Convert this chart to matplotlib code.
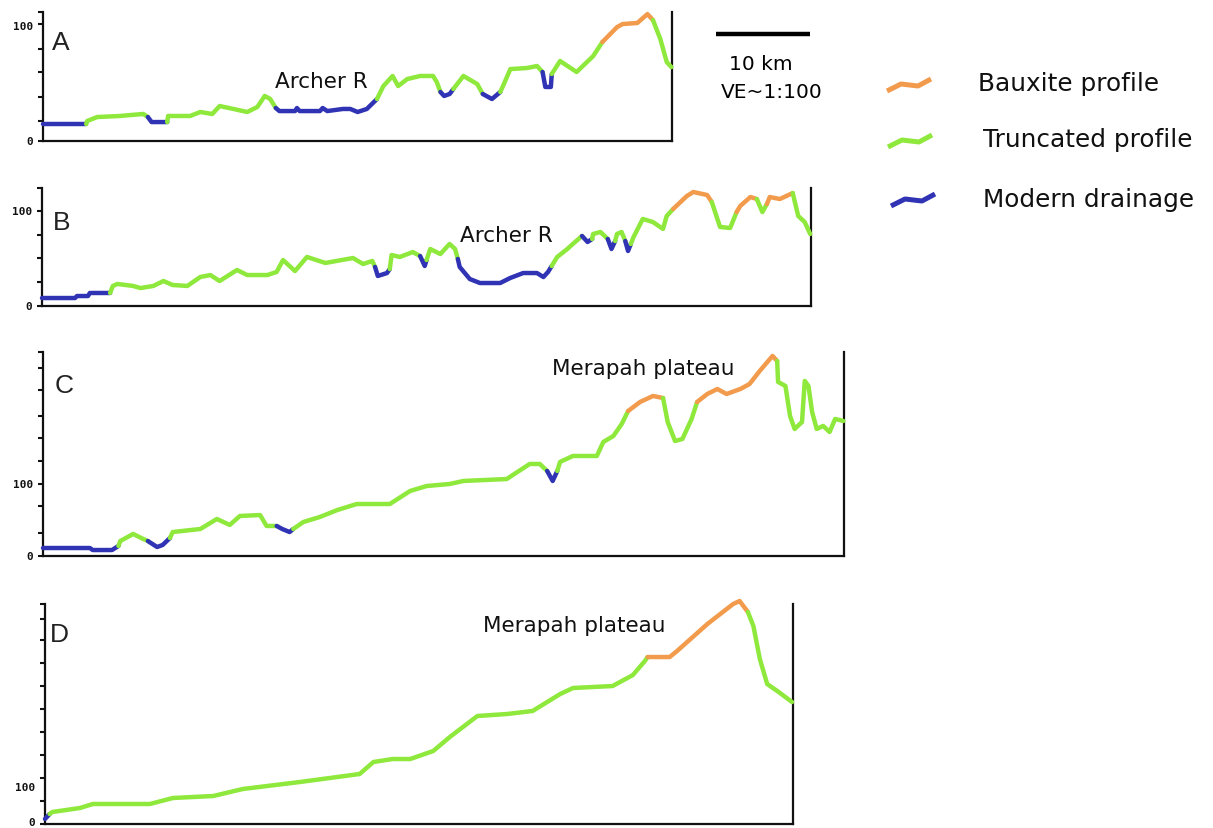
import matplotlib
matplotlib.use("Agg")
import matplotlib.pyplot as plt

W, H = 1213, 829

BAUXITE = "#F29B4C"
TRUNCATED = "#8FE83C"
DRAINAGE = "#3033B4"
COLORS = {"b": BAUXITE, "t": TRUNCATED, "d": DRAINAGE}

# ---- Profile A : distance (km) / elevation (m); kind of segment starting at each point
A_dist = [0.0, 4.7, 4.8, 5.9, 8.4, 9.5, 10.9, 11.4, 11.8, 13.5, 13.6, 16.0, 17.1, 18.4,
          19.2, 20.7, 22.2, 23.3, 24.1, 24.7, 25.3, 25.7, 27.4, 27.6, 27.9, 30.1, 30.4,
          30.9, 32.6, 33.4, 34.2, 35.2, 36.3, 37.0, 38.0, 38.6, 39.6, 41.0, 42.4, 42.8,
          43.2, 43.6, 44.2, 44.6, 45.7, 47.2, 47.8, 48.8, 49.7, 50.0, 50.8, 52.6, 53.7,
          54.3, 54.6, 55.2, 55.3, 56.2, 58.0, 59.8, 60.8, 62.4, 63.0, 64.6, 65.7, 66.3,
          67.1, 67.8, 68.3]
A_elev = [14.5, 14.5, 17.1, 20.5, 21.4, 22.2, 23.1, 20.5, 16.2, 16.2, 21.4, 21.4, 24.8,
          23.1, 29.9, 27.4, 24.8, 29.1, 38.5, 35.9, 28.2, 25.6, 25.6, 28.2, 25.6, 25.6,
          28.2, 25.6, 27.4, 27.4, 24.8, 27.4, 35.9, 47.0, 55.6, 47.0, 53.0, 55.6, 55.6,
          50.4, 41.9, 38.5, 40.2, 44.4, 55.6, 48.7, 40.2, 35.9, 41.9, 47.0, 61.5, 62.4,
          64.1, 59.0, 46.2, 46.2, 57.3, 68.4, 59.0, 72.6, 84.6, 97.4, 100.0, 100.9, 108.5,
          103.4, 87.2, 67.5, 63.2]
A_kind = ("d" + "t" * 6 + "d" * 2 + "t" * 11 + "d" * 12 + "t" * 8 + "d" * 3 + "t" * 3
          + "d" * 2 + "t" * 5 + "d" * 3 + "t" * 4 + "b" * 5 + "t" * 4)
A_ticks = [0, 17, 38, 59, 79, 100, 110.3]

# ---- Profile B
B_dist = [0.0, 3.6, 3.8, 5.0, 5.2, 7.4, 7.7, 8.2, 9.9, 10.7, 12.1, 13.2, 14.2, 15.8, 17.2,
          18.3, 19.3, 21.2, 22.3, 24.5, 25.5, 26.2, 27.5, 28.8, 30.8, 33.8, 34.9, 35.9,
          36.2, 36.5, 37.5, 37.8, 38.0, 38.9, 40.3, 41.1, 41.6, 41.8, 42.2, 43.3, 44.3,
          44.9, 45.2, 45.4, 46.5, 47.6, 49.8, 50.9, 52.3, 53.8, 54.5, 55.0, 55.4, 56.0,
          57.1, 57.7, 58.7, 59.3, 59.8, 59.9, 60.7, 61.5, 61.9, 62.3, 62.5, 63.0, 63.4,
          63.7, 64.0, 64.3, 65.3, 66.4, 67.5, 67.9, 68.6, 70.1, 70.8, 72.3, 72.8, 73.7,
          74.8, 75.5, 75.9, 77.0, 77.7, 78.3, 78.8, 79.1, 80.2, 81.6, 82.2, 82.9, 83.5]
B_elev = [8.4, 8.4, 10.5, 10.5, 13.7, 13.7, 21.1, 23.2, 21.1, 18.9, 21.1, 26.3, 22.1, 21.1,
          30.5, 32.6, 26.3, 37.9, 32.6, 32.6, 35.8, 48.4, 36.8, 51.6, 45.3, 50.5, 44.2,
          47.4, 41.1, 31.6, 34.7, 38.9, 53.7, 51.6, 56.8, 52.6, 42.1, 48.4, 60.0, 54.7,
          65.3, 60.0, 49.5, 41.1, 28.4, 24.2, 24.2, 29.5, 34.7, 34.7, 30.5, 35.8, 42.1,
          51.6, 60.0, 65.3, 73.7, 67.4, 70.5, 75.8, 77.9, 70.5, 60.0, 68.4, 75.8, 77.9,
          68.4, 57.9, 65.3, 72.6, 91.6, 88.4, 81.1, 94.7, 102.1, 115.8, 120.0, 116.8,
          109.5, 83.2, 82.1, 98.9, 105.3, 114.7, 112.6, 98.9, 107.4, 114.7, 112.6, 118.9,
          94.7, 88.4, 75.8]
B_kind = ("d" * 5 + "t" * 23 + "d" * 3 + "t" * 4 + "d" * 2 + "t" * 5 + "d" * 10 + "t" * 4
          + "d" * 2 + "t" * 3 + "d" * 2 + "t" * 3 + "d" * 2 + "t" * 6 + "b" * 4 + "t" * 3
          + "b" * 3 + "t" * 2 + "b" * 3 + "t" * 4)
B_ticks = [0, 25, 50, 75, 100, 124.2]

# ---- Profile C
C_dist = [0.0, 5.1, 5.4, 7.5, 8.2, 8.4, 9.8, 10.9, 11.4, 12.4, 13.0, 13.8, 14.1, 17.1,
          18.9, 20.3, 21.4, 23.6, 24.3, 25.4, 26.0, 26.8, 27.2, 28.3, 30.1, 32.0, 34.1,
          37.7, 39.9, 41.7, 44.2, 45.7, 50.4, 52.9, 54.0, 54.8, 55.4, 55.9, 56.2, 57.6,
          60.2, 60.9, 62.0, 62.9, 63.6, 64.9, 66.3, 67.4, 67.9, 68.7, 69.5, 70.5, 71.1,
          72.2, 73.3, 74.3, 75.8, 76.8, 77.9, 79.3, 79.8, 79.9, 80.7, 81.2, 81.7, 82.5,
          82.8, 83.2, 83.6, 84.1, 84.8, 85.5, 86.1, 87.0]
C_elev = [11.1, 11.1, 8.3, 8.3, 13.9, 20.8, 30.6, 23.6, 20.8, 12.5, 15.3, 25.0, 33.3,
          37.5, 51.4, 43.1, 55.6, 56.9, 41.7, 41.7, 37.5, 33.3, 37.5, 47.2, 54.2, 63.9,
          72.2, 72.2, 90.3, 97.2, 100.0, 104.2, 106.9, 127.8, 127.8, 118.1, 104.2, 118.1,
          130.6, 138.9, 138.9, 158.3, 166.7, 183.3, 201.4, 213.9, 222.2, 219.4, 186.1,
          159.7, 162.5, 190.3, 213.9, 225.0, 231.9, 225.0, 231.9, 238.9, 256.9, 277.8,
          270.8, 241.7, 236.1, 194.4, 176.4, 186.1, 243.1, 236.1, 200.0, 176.4, 180.6,
          172.2, 190.3, 187.5]
C_kind = ("d" * 4 + "t" * 4 + "d" * 3 + "t" * 8 + "d" * 3 + "t" * 13 + "d" * 2 + "t" * 7
          + "b" * 3 + "t" * 5 + "b" * 8 + "t" * 14)
C_ticks = [0, 32, 69, 100, 132, 164, 194, 231, 261, 283.3]

# ---- Profile D
D_dist = [0.0, 0.5, 0.8, 3.8, 5.2, 11.4, 13.9, 18.3, 21.5, 27.7, 34.2, 35.7, 37.8, 39.7,
          42.2, 44.0, 47.0, 50.2, 53.0, 56.0, 57.4, 61.7, 63.9, 65.2, 65.5, 67.9, 68.7,
          72.0, 74.8, 75.5, 76.4, 77.0, 77.7, 78.5, 79.6, 81.2]
D_elev = [10.9, 21.7, 26.1, 34.8, 43.5, 43.5, 56.5, 60.9, 76.1, 91.3, 108.7, 134.8, 141.3,
          141.3, 158.7, 189.1, 234.8, 239.1, 245.7, 282.6, 295.7, 300.0, 323.9, 354.3,
          363.0, 363.0, 376.1, 434.8, 478.3, 484.8, 460.9, 430.4, 358.7, 304.3, 289.1,
          265.2]
D_kind = "d" + "t" * 23 + "b" * 6 + "t" * 6
D_ticks = [0, 50, 100, 150, 200, 250, 300, 350, 400, 445, 478.3]

LEGEND_LABELS = ["Bauxite profile", "Truncated profile", "Modern drainage"]


def px_axes(fig, left, right, top, bottom):
    return fig.add_axes([left / W, 1 - bottom / H, (right - left) / W, (bottom - top) / H])


def draw_profile(ax, dist, elev, kind):
    n = len(dist)
    i = 0
    while i < n - 1:
        k = kind[i]
        j = i
        while j < n - 1 and kind[j] == k:
            j += 1
        ax.plot(dist[i:j + 1], elev[i:j + 1], color=COLORS[k], lw=3.2,
                solid_joinstyle="round", solid_capstyle="round", clip_on=False, zorder=3)
        i = j


fig = plt.figure(figsize=(W / 100, H / 100), dpi=100)

# overlay in pixel units for labels, scale bar and key
ov = fig.add_axes([0, 0, 1, 1])
ov.set_xlim(0, W)
ov.set_ylim(H, 0)
ov.axis("off")

panels = [
    dict(d=A_dist, z=A_elev, k=A_kind, ticks=A_ticks, box=(43, 672, 13, 142),
         lab=(98.3, 0.0), letter="A", lxy=(52, 50)),
    dict(d=B_dist, z=B_elev, k=B_kind, ticks=B_ticks, box=(42, 811, 189, 307),
         lab=(100.0, 0.0), letter="B", lxy=(53, 230)),
    dict(d=C_dist, z=C_elev, k=C_kind, ticks=C_ticks, box=(43, 844, 353, 557),
         lab=(100.0, 0.0), letter="C", lxy=(55, 393)),
    dict(d=D_dist, z=D_elev, k=D_kind, ticks=D_ticks, box=(45, 793, 605, 825),
         lab=(80.0, 4.3), letter="D", lxy=(50, 642)),
]

for p in panels:
    left, right, top, bottom = p["box"]
    ax = px_axes(fig, left, right, top, bottom)
    ax.patch.set_alpha(0)
    ax.set_xlim(0, (right - left) / 9.2)
    ax.set_ylim(0, p["ticks"][-1])
    ax.spines["top"].set_visible(False)
    for s in ("left", "bottom", "right"):
        ax.spines[s].set_linewidth(1.6)
        ax.spines[s].set_color("#111111")
    ax.set_xticks([])
    ax.set_yticks(p["ticks"])
    ax.set_yticklabels([])
    ax.tick_params(axis="y", direction="out", length=3.8, width=1.5, color="#111111")
    for val, txt in zip(p["lab"], ("100", "0")):
        ax.annotate(txt, xy=(0, val), xycoords=("axes fraction", "data"),
                    xytext=(-7.2, 0), textcoords="offset points", ha="right", va="center",
                    fontsize=8, fontweight="bold", family="DejaVu Sans Mono", color="#111111")
    draw_profile(ax, p["d"], p["z"], p["k"])
    ov.text(p["lxy"][0], p["lxy"][1], p["letter"], fontsize=19, family="Liberation Sans",
            ha="left", va="baseline", color="#222222")

# place names
for x, y, txt in [(275, 88, "Archer R"), (460, 242, "Archer R"),
                  (552, 375, "Merapah plateau"), (483, 632, "Merapah plateau")]:
    ov.text(x, y, txt, fontsize=15.5, family="DejaVu Sans", ha="left", va="baseline",
            color="#111111")

# scale bar
ov.plot([716, 810], [35, 35], color="black", lw=3.2, solid_capstyle="butt")
ov.text(761, 70, "10 km", fontsize=14.5, family="DejaVu Sans", ha="center", va="baseline")
ov.text(772, 98, "VE~1:100", fontsize=14.5, family="DejaVu Sans", ha="center", va="baseline")

# key
glyph_dx = [0, 14, 31, 44]
glyph_dy = [0, -7, -5, -12]
for (x0, y0), col, (tx, ty), lab in zip(
        [(887, 92), (888, 148), (891, 207)],
        [BAUXITE, TRUNCATED, DRAINAGE],
        [(978, 91), (983, 147), (983, 207)],
        LEGEND_LABELS):
    ov.plot([x0 + dx for dx in glyph_dx], [y0 + dy for dy in glyph_dy], color=col, lw=3.6,
            solid_joinstyle="round", solid_capstyle="butt")
    ov.text(tx, ty, lab, fontsize=17.8, family="DejaVu Sans", ha="left", va="baseline",
            color="#111111")

fig.savefig("out.png", dpi=100)
